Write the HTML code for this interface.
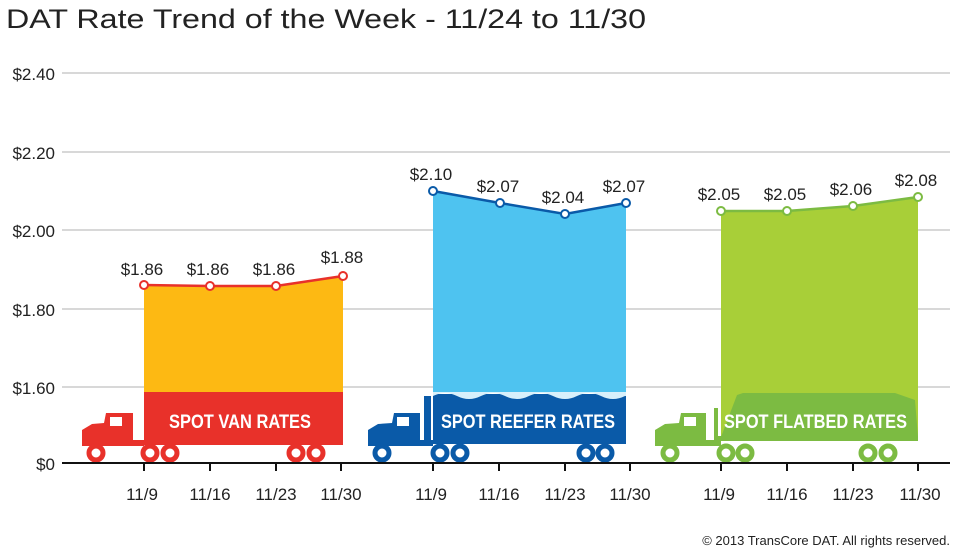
<!DOCTYPE html>
<html><head><style>body{margin:0;background:#fff}svg{display:block;font-family:"Liberation Sans",sans-serif}</style></head><body>
<svg width="980" height="552" viewBox="0 0 980 552">
<text x="6" y="28" font-size="27" fill="#222" textLength="640" lengthAdjust="spacingAndGlyphs">DAT Rate Trend of the Week - 11/24 to 11/30</text>
<g stroke="#ccc" stroke-width="1.5">
<line x1="62" x2="950" y1="73" y2="73"/><line x1="62" x2="950" y1="152" y2="152"/><line x1="62" x2="950" y1="230" y2="230"/><line x1="62" x2="950" y1="309" y2="309"/><line x1="62" x2="950" y1="387" y2="387"/>
</g>
<g font-size="17" fill="#222" text-anchor="end">
<text x="55" y="80">$2.40</text><text x="55" y="159">$2.20</text><text x="55" y="237">$2.00</text><text x="55" y="316">$1.80</text><text x="55" y="394">$1.60</text><text x="55" y="470">$0</text>
</g>
<!-- VAN -->
<polygon points="144,285 210,286 276,286 343,276 343,392 144,392" fill="#fdb913"/>
<polyline points="144,285 210,286 276,286 343,276" fill="none" stroke="#e8312a" stroke-width="2.5"/>
<rect x="144" y="392" width="199" height="53" fill="#e8312a"/>
<path d="M82,446 L82,430 L92,424 L104,423 L106,413 L133,413 L133,440 L144,440 L144,446 Z" fill="#e8312a"/>
<rect x="110" y="417" width="12" height="9" fill="#fff"/>
<g fill="#fff" stroke="#e8312a" stroke-width="5"><circle cx="96" cy="453" r="7"/><circle cx="150" cy="453" r="7"/><circle cx="170" cy="453" r="7"/><circle cx="296" cy="453" r="7"/><circle cx="316" cy="453" r="7"/></g>
<text x="169" y="428" font-size="19" font-weight="bold" fill="#fff" textLength="142" lengthAdjust="spacingAndGlyphs">SPOT VAN RATES</text>
<g fill="#fff" stroke="#e8312a" stroke-width="2"><circle cx="144" cy="285" r="4"/><circle cx="210" cy="286" r="4"/><circle cx="276" cy="286" r="4"/><circle cx="343" cy="276" r="4"/></g>
<!-- REEFER -->
<polygon points="433,191 500,203 565,214 626,203 626,392 433,392" fill="#4ec3f0"/>
<polyline points="433,191 500,203 565,214 626,203" fill="none" stroke="#0a5aa8" stroke-width="2.5"/>
<rect x="433" y="394" width="193" height="50" fill="#0a5aa8"/>
<path d="M433,396 q12,-6 24,0 t24,0 t24,0 t24,0 t24,0 t24,0 t24,0 t24,0 L626,396 L626,392 L433,392Z" fill="#d8f0fb"/>
<rect x="424" y="396" width="7" height="48" fill="#0a5aa8"/>
<path d="M368,446 L368,430 L378,424 L392,423 L394,413 L420,413 L420,440 L433,440 L433,446 Z" fill="#0a5aa8"/>
<rect x="397" y="417" width="12" height="9" fill="#fff"/>
<g fill="#fff" stroke="#0a5aa8" stroke-width="5"><circle cx="382" cy="453" r="7"/><circle cx="440" cy="453" r="7"/><circle cx="460" cy="453" r="7"/><circle cx="586" cy="453" r="7"/><circle cx="605" cy="453" r="7"/></g>
<text x="441" y="428" font-size="19" font-weight="bold" fill="#fff" textLength="174" lengthAdjust="spacingAndGlyphs">SPOT REEFER RATES</text>
<g fill="#fff" stroke="#0a5aa8" stroke-width="2"><circle cx="433" cy="191" r="4"/><circle cx="500" cy="203" r="4"/><circle cx="565" cy="214" r="4"/><circle cx="626" cy="203" r="4"/></g>
<!-- FLATBED -->
<polygon points="721,211 787,211 853,206 918,197 918,440 721,440" fill="#a8cf38"/>
<polyline points="721,211 787,211 853,206 918,197" fill="none" stroke="#7cbb42" stroke-width="2.5"/>
<path d="M721,437 L737,395 L743,393 L895,393 L915,400 L918,437 Z" fill="#7cbb42"/>
<rect x="718" y="436" width="200" height="5" fill="#7cbb42"/>
<rect x="714" y="408" width="4" height="33" fill="#7cbb42"/>
<path d="M655,446 L655,430 L665,424 L679,423 L681,413 L706,413 L706,440 L721,440 L721,446 Z" fill="#7cbb42"/>
<rect x="684" y="417" width="12" height="9" fill="#fff"/>
<g fill="#fff" stroke="#7cbb42" stroke-width="5"><circle cx="670" cy="453" r="7"/><circle cx="726" cy="453" r="7"/><circle cx="745" cy="453" r="7"/><circle cx="868" cy="453" r="7"/><circle cx="888" cy="453" r="7"/></g>
<text x="724" y="428" font-size="19" font-weight="bold" fill="#fff" textLength="183" lengthAdjust="spacingAndGlyphs">SPOT FLATBED RATES</text>
<g fill="#fff" stroke="#7cbb42" stroke-width="2"><circle cx="721" cy="211" r="4"/><circle cx="787" cy="211" r="4"/><circle cx="853" cy="206" r="4"/><circle cx="918" cy="197" r="4"/></g>
<!-- value labels -->
<g font-size="17" fill="#222" text-anchor="middle">
<text x="142" y="275">$1.86</text><text x="208" y="275">$1.86</text><text x="274" y="275">$1.86</text><text x="342" y="263">$1.88</text>
<text x="431" y="180">$2.10</text><text x="498" y="192">$2.07</text><text x="563" y="203">$2.04</text><text x="624" y="192">$2.07</text>
<text x="719" y="200">$2.05</text><text x="785" y="200">$2.05</text><text x="851" y="195">$2.06</text><text x="916" y="186">$2.08</text>
</g>
<!-- axis -->
<line x1="62" x2="950" y1="463" y2="463" stroke="#111" stroke-width="2"/>
<g stroke="#111" stroke-width="2">
<line x1="144" x2="144" y1="463" y2="471"/><line x1="210" x2="210" y1="463" y2="471"/><line x1="276" x2="276" y1="463" y2="471"/><line x1="341" x2="341" y1="463" y2="471"/>
<line x1="433" x2="433" y1="463" y2="471"/><line x1="499" x2="499" y1="463" y2="471"/><line x1="565" x2="565" y1="463" y2="471"/><line x1="630" x2="630" y1="463" y2="471"/>
<line x1="721" x2="721" y1="463" y2="471"/><line x1="787" x2="787" y1="463" y2="471"/><line x1="853" x2="853" y1="463" y2="471"/><line x1="918" x2="918" y1="463" y2="471"/>
</g>
<g font-size="17" fill="#222" text-anchor="middle">
<text x="142" y="500">11/9</text><text x="210" y="500">11/16</text><text x="276" y="500">11/23</text><text x="341" y="500">11/30</text>
<text x="431" y="500">11/9</text><text x="499" y="500">11/16</text><text x="565" y="500">11/23</text><text x="630" y="500">11/30</text>
<text x="719" y="500">11/9</text><text x="787" y="500">11/16</text><text x="853" y="500">11/23</text><text x="920" y="500">11/30</text>
</g>
<text x="950" y="545" font-size="13" fill="#222" text-anchor="end">© 2013 TransCore DAT. All rights reserved.</text>
</svg>
</body></html>
